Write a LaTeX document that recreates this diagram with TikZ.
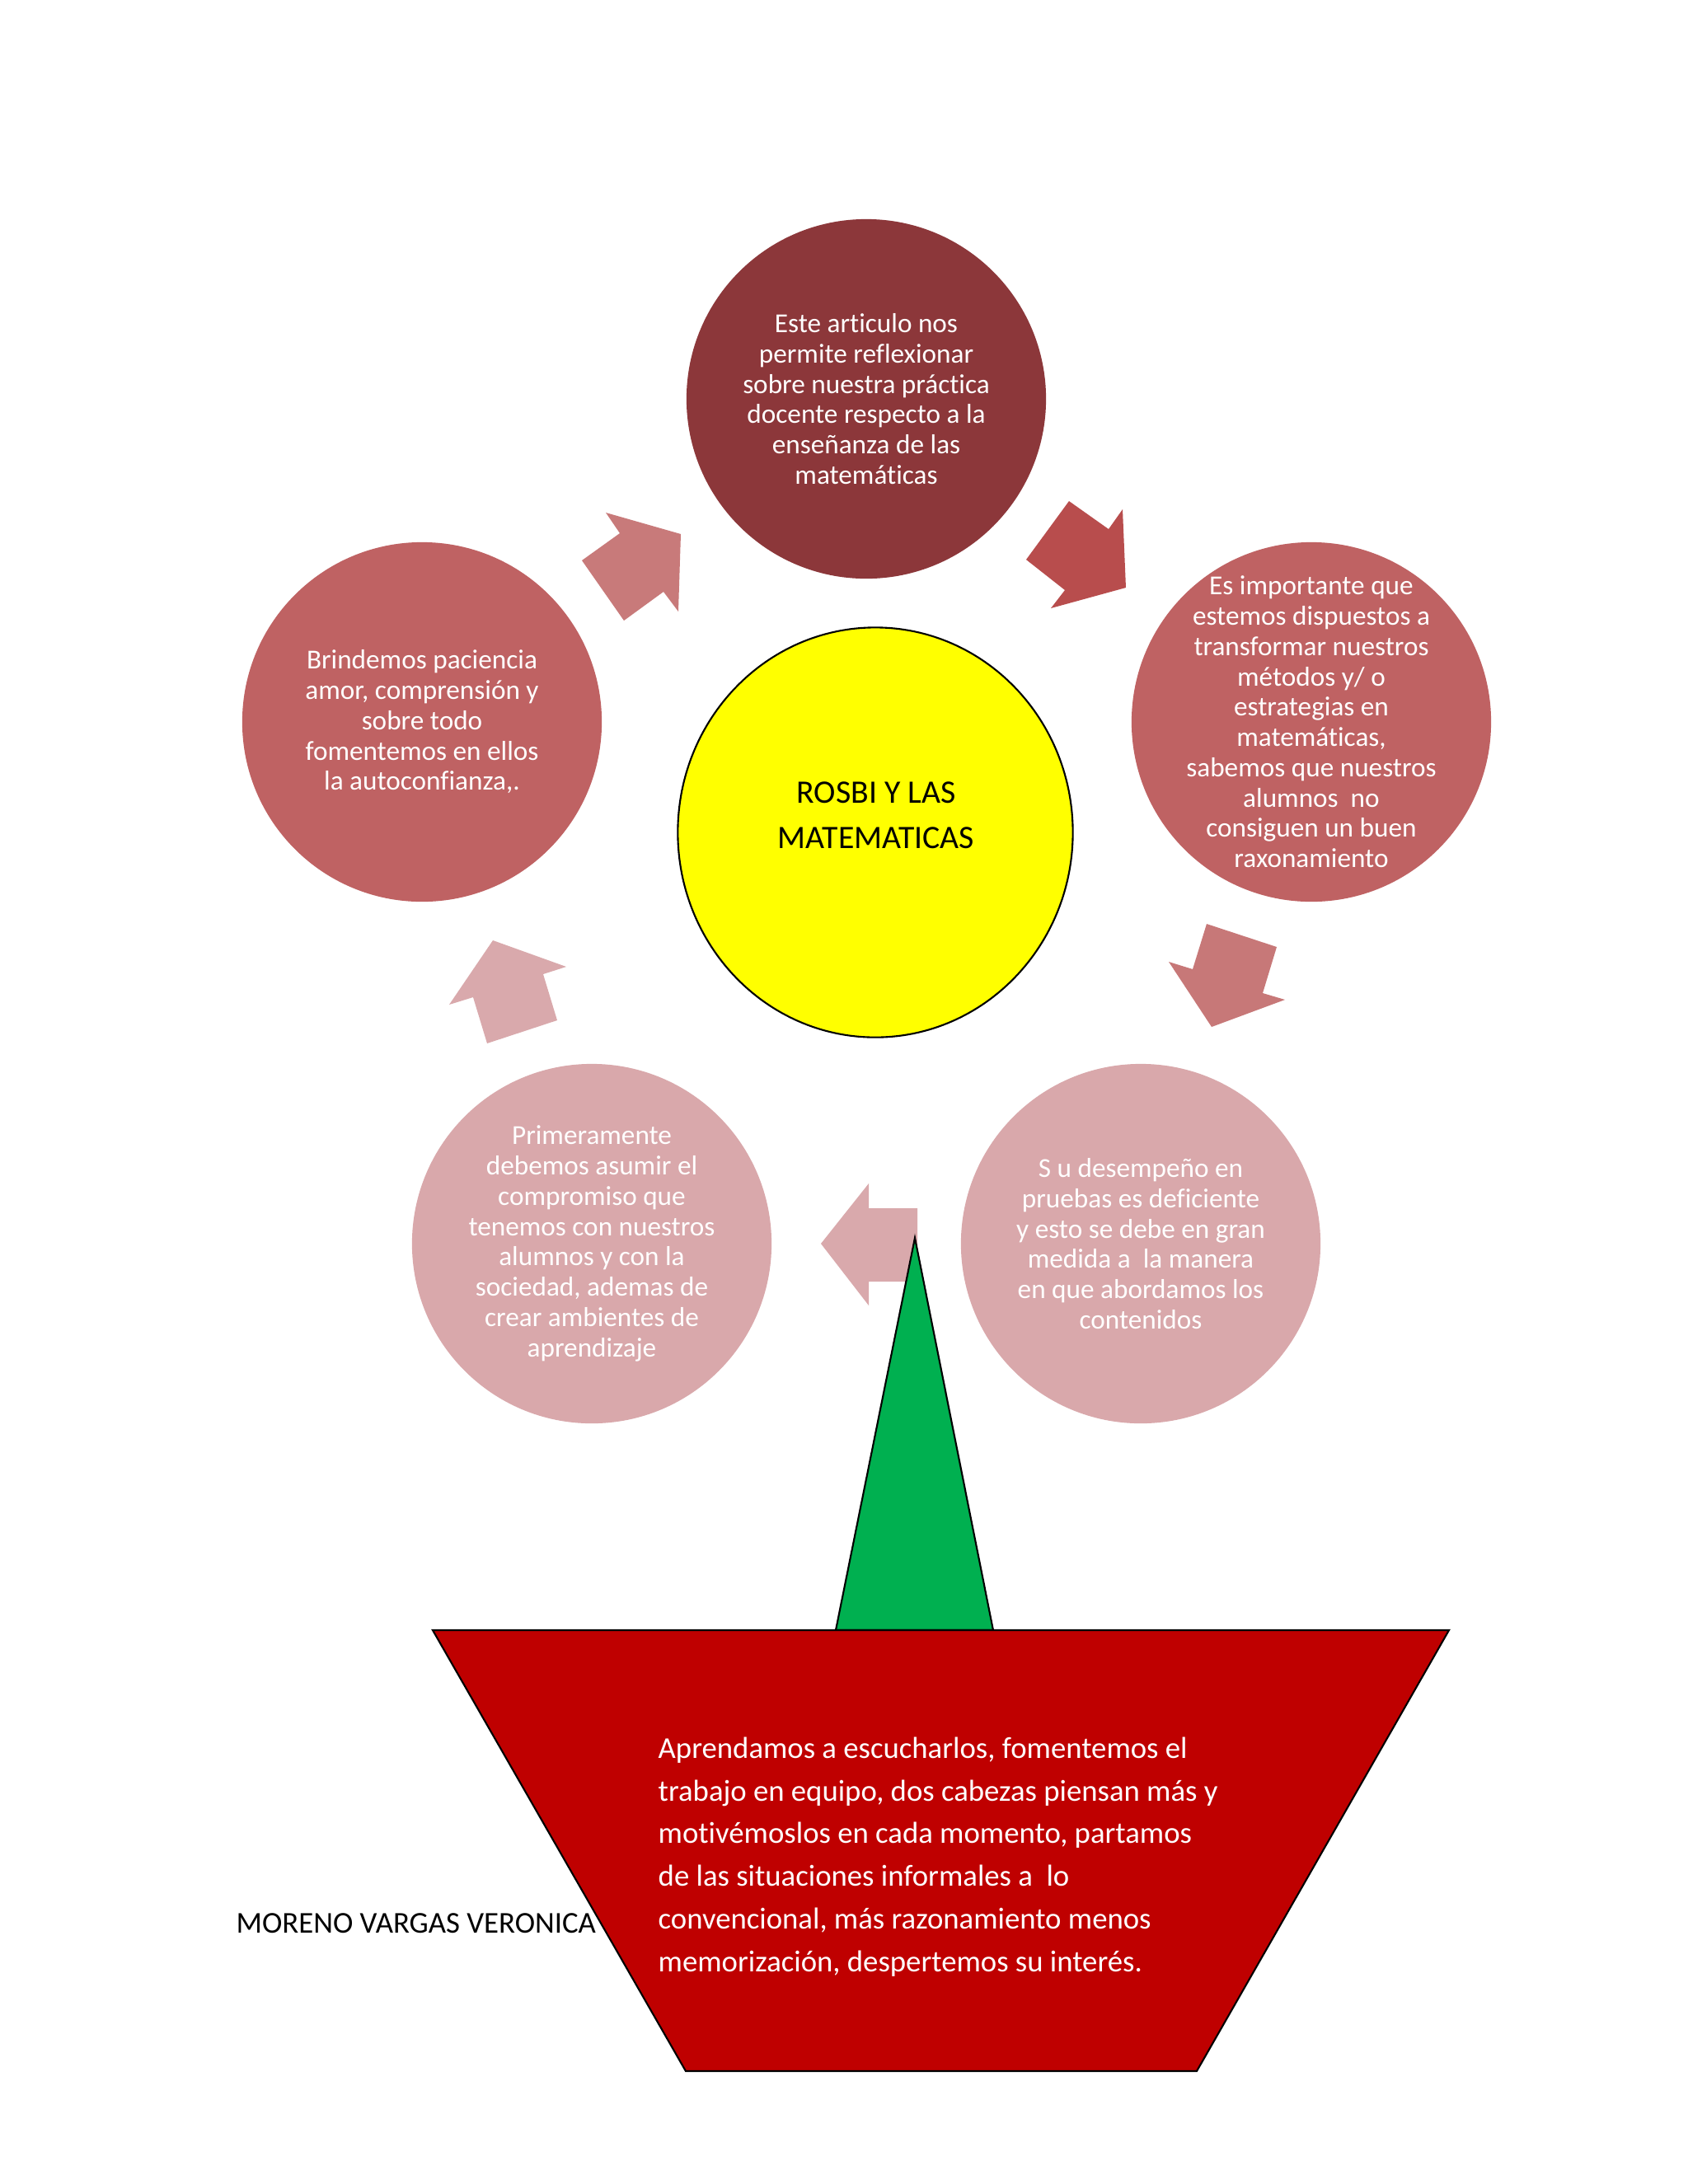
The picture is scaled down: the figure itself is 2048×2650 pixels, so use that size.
\documentclass[tikz,border=0pt]{standalone}
\usepackage{fontspec}
\setmainfont{Carlito}[Ligatures=NoCommon]
\usetikzlibrary{shapes.geometric}

\definecolor{vino}{HTML}{8C373A}
\definecolor{rosa}{HTML}{BF6263}
\definecolor{rosaclaro}{HTML}{D9A8AB}
\definecolor{flechaA}{HTML}{C87A7A}
\definecolor{flechaB}{HTML}{B84D4D}
\definecolor{flechaC}{HTML}{C77878}
\definecolor{flechaD}{HTML}{D9A9AC}
\definecolor{maceta}{HTML}{BF0000}
\definecolor{tallo}{HTML}{00B050}
\definecolor{amarillo}{HTML}{FFFF00}

\begin{document}
\begin{tikzpicture}[
    x=0.01cm, y=-0.01cm,
    burbuja/.style={
        circle, draw=none, minimum size=4.36cm, inner sep=0pt
    },
    txt/.style={
        text=white, align=center, inner sep=0pt,
        font=\fontsize{9.45pt}{10.45pt}\selectfont
    },
    centro/.style={
        ellipse, draw=black, line width=0.6pt, fill=amarillo,
        minimum width=4.79cm, minimum height=4.97cm
    },
    flecha/.style={draw=none},
    borde/.style={draw=black, line width=0.6pt},
]

% page
\fill[white] (0,0) rectangle (2048,2650);
\useasboundingbox (0,0) rectangle (2048,2650);

% Circles of the cycle
\node[burbuja, fill=vino] (arriba) at (1051,484) {};
\node[burbuja, fill=rosa] (derecha) at (1591,876) {};
\node[burbuja, fill=rosa] (izquierda) at (512,876) {};
\node[burbuja, fill=rosaclaro] (abajoizq) at (718,1509) {};
\node[burbuja, fill=rosaclaro] (abajoder) at (1384,1509) {};

% Centre
\node[centro] (rosbi) at (1062,1010) {};
\node[align=center, inner sep=0pt, font=\fontsize{11.3pt}{15.6pt}\selectfont]
    (titulo) at (1063,989) {ROSBI Y LAS\\MATEMATICAS};

% Block arrows between the circles
\fill[flecha, flechaA] (735,622) -- (826,648) -- (823,742) -- (805,718)
    -- (757,753) -- (706,680) -- (752,647) -- cycle;
\fill[flecha, flechaB] (1297,608) -- (1345,642) -- (1362,618) -- (1366,713)
    -- (1275,738) -- (1292,716) -- (1245,679) -- cycle;
\fill[flecha, flechaC] (1464,1121) -- (1549,1149) -- (1532,1205) -- (1559,1213)
    -- (1470,1246) -- (1418,1167) -- (1447,1176) -- cycle;
\fill[flecha, flechaD] (996,1509) -- (1054,1436) -- (1054,1466) -- (1113,1466)
    -- (1113,1555) -- (1054,1555) -- (1054,1584) -- cycle;
\fill[flecha, flechaD] (598,1141) -- (687,1173) -- (659,1182) -- (676,1238)
    -- (591,1266) -- (574,1210) -- (545,1219) -- cycle;

% Stem and pot
\filldraw[borde, fill=tallo] (1110,1502) -- (1205,1978) -- (1014,1978) -- cycle;
\filldraw[borde, fill=maceta] (525,1978) -- (1758,1978) -- (1452,2513)
    -- (832,2513) -- cycle;

% Texts of the circles
\node[txt] (arriba-txt) at (arriba) {Este articulo nos\\permite reflexionar\\sobre nuestra práctica\\docente respecto a la\\enseñanza de las\\matemáticas};
\node[txt] (derecha-txt) at (derecha) {Es importante que\\estemos dispuestos a\\transformar nuestros\\métodos y/ o\\estrategias en\\matemáticas,\\sabemos que nuestros\\alumnos\ \ no\\consiguen un buen\\raxonamiento};
\node[txt] (abajoder-txt) at (abajoder) {S u desempeño en\\pruebas es deficiente\\y esto se debe en gran\\medida a\ \ la manera\\en que abordamos los\\contenidos};
\node[txt] (abajoizq-txt) at (abajoizq) {Primeramente\\debemos asumir el\\compromiso que\\tenemos con nuestros\\alumnos y con la\\sociedad, ademas de\\crear ambientes de\\aprendizaje};
\node[txt] (izquierda-txt) at (izquierda) {Brindemos paciencia\\amor, comprensión y\\sobre todo\\fomentemos en ellos\\la autoconfianza,.};

% Text of the pot
\node[text=white, align=left, anchor=west, inner sep=0pt,
      font=\fontsize{10.45pt}{14.7pt}\selectfont] (maceta-txt) at (798,2253)
    {Aprendamos a escucharlos, fomentemos el\\trabajo en equipo, dos cabezas piensan más y\\motivémoslos en cada momento, partamos\\de las situaciones informales a\ \ lo\\convencional, más razonamiento menos\\memorización, despertemos su interés.};

% Author
\node[anchor=west, inner sep=0pt, font=\fontsize{10.45pt}{12pt}\selectfont]
    (autora) at (286,2334) {MORENO VARGAS VERONICA};

\end{tikzpicture}
\end{document}
